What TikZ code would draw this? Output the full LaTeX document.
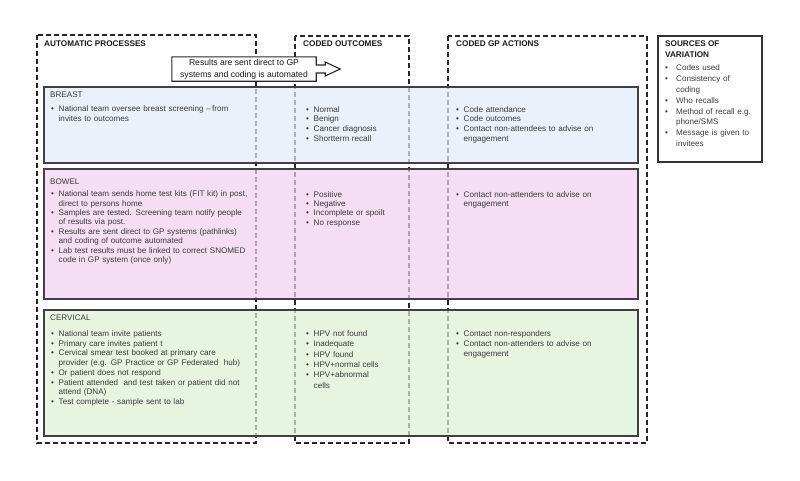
\documentclass[tikz,border=0pt]{standalone}
\usepackage{fontspec}
\setmainfont{Liberation Sans}
\usetikzlibrary{positioning}
\definecolor{breastblue}{HTML}{E2EBF8}
\definecolor{bowelpink}{HTML}{F1D0EE}
\definecolor{cervgreen}{HTML}{DDF1D3}
\definecolor{inkgrey}{HTML}{3A3A3A}
\newlength{\hangw}
\newcommand{\bitem}{\par\noindent\setlength{\hangw}{7.5pt}\hbox to \hangw{\textbullet\hss}}
\newcommand{\sitem}{\par\noindent\setlength{\hangw}{11pt}\hbox to \hangw{\textbullet\hss}}
\newcommand{\nl}{\hfil\break\hspace*{\hangw}}

\begin{document}
\begin{tikzpicture}[
    x=1pt, y=-1pt,
    frame/.style={draw=black!85, dashed, dash pattern=on 5pt off 3pt, line width=1.1pt},
    rowbox/.style={draw=black!75, line width=1.3pt, fill opacity=0.7},
    heading/.style={anchor=north west, inner sep=0pt, align=left, font=\fontsize{8.2}{10.7}\selectfont\bfseries, text=black!90},
    rowlabel/.style={anchor=north west, inner sep=0pt, font=\fontsize{8.1}{10}\selectfont, text=inkgrey},
    cell/.style={anchor=north west, inner sep=0pt, align=left, font=\fontsize{8.1}{#1}\selectfont, text=inkgrey},
    cell/.default=9.8,
    notebox/.style={fill=white, inner sep=0pt, minimum width=144pt, minimum height=24pt, align=center, font=\fontsize{8.6}{11.8}\selectfont, text=black!90},
]
    \useasboundingbox (0,0) rectangle (800,480);

    % column frames
    \draw[frame] (37,35) rectangle (256,443);
    \draw[frame] (295,36) rectangle (409,443);
    \draw[frame] (448,36) rectangle (647,443);
    \node[heading] (hauto) at (44,41) {AUTOMATIC PROCESSES};
    \node[heading] (hcoded) at (303,41) {CODED OUTCOMES};
    \node[heading] (hgp) at (456,41) {CODED GP ACTIONS};

    % screening rows
    \draw[rowbox, fill=breastblue] (44,87) rectangle (638,163);
    \draw[rowbox, fill=bowelpink] (44,169) rectangle (638,299);
    \draw[rowbox, fill=cervgreen] (44,310) rectangle (638,436);

    % automation note
    \node[notebox] (note) at (244,69) {Results are sent direct to GP\\systems and coding is automated};
    \draw[line width=1.1pt, black!85] (note.north west) -- (note.north east) -- ([yshift=4pt]note.east)
        -- ++(9,0) -- ++(0,-3) -- ++(15,7) -- ++(-15,7) -- ++(0,-3) -- ++(-9,0)
        -- (note.south east) -- (note.south west) -- cycle;

    % breast
    \node[rowlabel] (breast) at (50,92) {BREAST};
    \node[cell, text width=200pt, below=3.5pt of breast.south west, anchor=north west, xshift=1pt] (breastauto)
        {\bitem National team oversee breast screening --\,from\nl invites to outcomes};
    \node[cell, text width=95pt] (breastcode) at (306,102)
        {\bitem Normal \bitem Benign \bitem Cancer diagnosis \bitem Shortterm recall};
    \node[cell, text width=185pt] (breastgp) at (456,102)
        {\bitem Code attendance \bitem Code outcomes \bitem Contact non-attendees to advise on\nl engagement};

    % bowel
    \node[rowlabel] (bowel) at (50,179) {BOWEL};
    \node[cell=9.4, text width=200pt, below=2pt of bowel.south west, anchor=north west, xshift=1pt] (bowelauto)
        {\bitem National team sends home test kits (FIT kit) in post,\nl direct to persons home
         \bitem Samples are tested. Screening team notify people\nl of results via post.
         \bitem Results are sent direct to GP systems (pathlinks)\nl and coding of outcome automated
         \bitem Lab test results must be linked to correct SNOMED\nl code in GP system (once only)};
    \node[cell=9.4, text width=95pt] (bowelcode) at (306,187.5)
        {\bitem Positive \bitem Negative \bitem Incomplete or spoilt \bitem No response};
    \node[cell=9.4, text width=185pt] (bowelgp) at (456,187.5)
        {\bitem Contact non-attenders to advise on\nl engagement};

    % cervical
    \node[rowlabel] (cervical) at (50,315) {CERVICAL};
    \node[cell=9.7, text width=200pt, below=5.5pt of cervical.south west, anchor=north west, xshift=1pt] (cervauto)
        {\bitem National team invite patients
         \bitem Primary care invites patient t
         \bitem Cervical smear test booked at primary care\nl provider (e.g. GP Practice or GP Federated\ \ hub)
         \bitem Or patient does not respond
         \bitem Patient attended\ \ and test taken or patient did not\nl attend (DNA)
         \bitem Test complete - sample sent to lab};
    \node[cell=10.3, text width=95pt] (cervcode) at (306,326)
        {\bitem HPV not found \bitem Inadequate \bitem HPV found \bitem HPV+normal cells \bitem HPV+abnormal\nl cells};
    \node[cell=10, text width=185pt] (cervgp) at (456,326)
        {\bitem Contact non-responders \bitem Contact non-attenders to advise on\nl engagement};

    % sources of variation
    \draw[draw=black!80, line width=1.2pt] (658,36) rectangle (762,162);
    \node[heading] (hsource) at (665,41) {SOURCES OF\\VARIATION};
    \node[cell=10.8, text width=92pt, below=2pt of hsource.south west, anchor=north west] (sources)
        {\sitem Codes used \sitem Consistency of\nl coding \sitem Who recalls
         \sitem Method of recall e.g.\nl phone/SMS \sitem Message is given to\nl invitees};
\end{tikzpicture}
\end{document}
